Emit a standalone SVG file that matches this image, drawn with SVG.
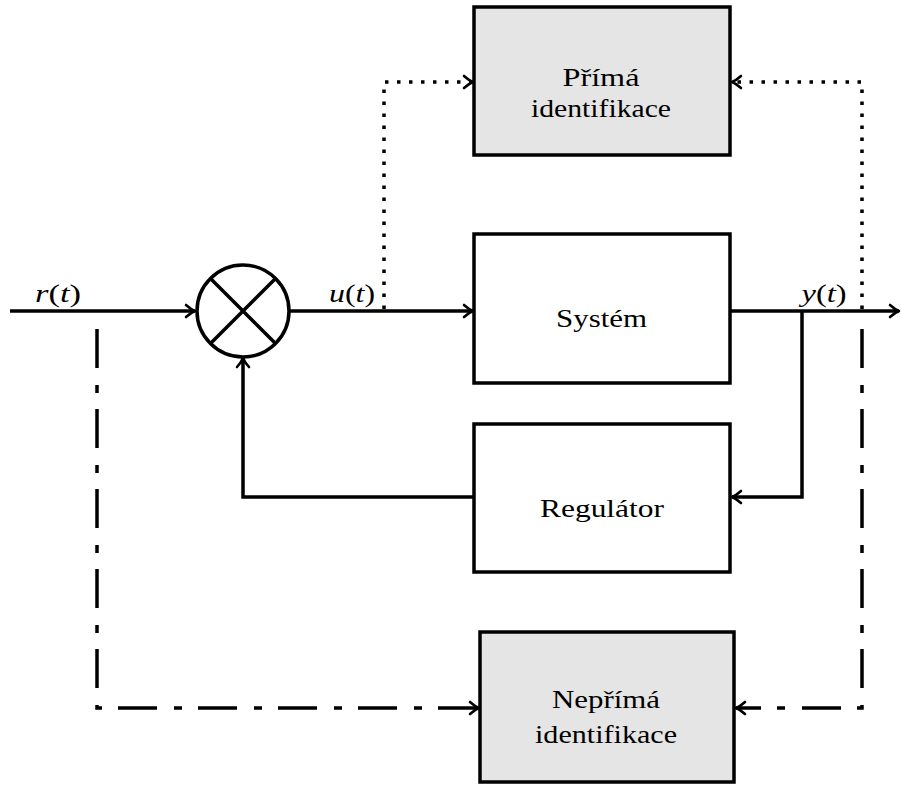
<svg xmlns="http://www.w3.org/2000/svg" width="901" height="785" viewBox="0 0 901 785">
  <style>
    .box { stroke: #000; stroke-width: 3.5; }
    .plain { fill: #fff; }
    .shaded { fill: #e5e5e5; }
    .label { font-family: "Liberation Serif", "Times New Roman", serif; font-size: 25px; fill: #000; text-anchor: middle; }
    .math { font-style: italic; }
    .wire { fill: none; stroke: #000; stroke-width: 3.5; }
    .dotted { stroke-dasharray: 3.5 8.5; }
    .dashdot { stroke-dasharray: 39 17 8 16; }
  </style>
  <defs>
    <marker id="arrow" markerUnits="userSpaceOnUse" viewBox="-12 -8 14 16" refX="0" refY="0" markerWidth="14" markerHeight="16" orient="auto">
      <path d="M -9,-6 Q -4,-1.5 0,0 Q -4,1.5 -9,6" fill="none" stroke="#000" stroke-width="2.6" stroke-linecap="round" stroke-linejoin="round"/>
    </marker>
  </defs>

  <rect width="901" height="785" fill="#fff"/>

  <!-- connectors -->
  <g id="connectors">
    <!-- reference input into summing junction -->
    <path class="wire" d="M 10,311 H 195" marker-end="url(#arrow)"/>
    <!-- junction output to the plant -->
    <path class="wire" d="M 289,311 H 473" marker-end="url(#arrow)"/>
    <!-- plant output -->
    <path class="wire" d="M 730,311 H 899" marker-end="url(#arrow)"/>
    <!-- feedback through the controller -->
    <path class="wire" d="M 802,311 V 497 H 732" marker-end="url(#arrow)"/>
    <path class="wire" d="M 474,497 H 243 V 358" marker-end="url(#arrow)"/>
    <!-- direct identification taps (dotted) -->
    <path class="wire dotted" d="M 384,309 V 82 H 473" marker-end="url(#arrow)"/>
    <path class="wire dotted" d="M 862,309 V 82 H 732" marker-end="url(#arrow)"/>
    <!-- indirect identification taps (dash-dot) -->
    <path class="wire dashdot" d="M 97,325 V 708 H 479" stroke-dashoffset="-4" marker-end="url(#arrow)"/>
    <path class="wire dashdot" d="M 862,325 V 708 H 736" stroke-dashoffset="-4" marker-end="url(#arrow)"/>
  </g>

  <!-- summing junction -->
  <g id="junction">
    <circle cx="243" cy="311" r="46" fill="#fff" stroke="#000" stroke-width="3.5"/>
    <path d="M 210.5,278.5 L 275.5,343.5 M 275.5,278.5 L 210.5,343.5" stroke="#000" stroke-width="3.5"/>
  </g>

  <g id="prima">
    <rect class="box shaded" x="474" y="7" width="256" height="148"/>
    <text class="label" x="601" y="86" textLength="77" lengthAdjust="spacingAndGlyphs">Přímá</text>
    <text class="label" x="601" y="117" textLength="140" lengthAdjust="spacingAndGlyphs">identifikace</text>
  </g>

  <g id="system">
    <rect class="box plain" x="474" y="234" width="256" height="149"/>
    <text class="label" x="601.5" y="327" textLength="91" lengthAdjust="spacingAndGlyphs">Systém</text>
  </g>

  <g id="regulator">
    <rect class="box plain" x="474" y="424" width="256" height="148"/>
    <text class="label" x="602" y="517" textLength="124" lengthAdjust="spacingAndGlyphs">Regulátor</text>
  </g>

  <g id="neprima">
    <rect class="box shaded" x="480" y="632" width="254" height="150"/>
    <text class="label" x="606" y="708" textLength="108" lengthAdjust="spacingAndGlyphs">Nepřímá</text>
    <text class="label" x="606" y="743" textLength="142" lengthAdjust="spacingAndGlyphs">identifikace</text>
  </g>

  <!-- signal labels -->
  <g id="signals">
    <text class="label" x="58" y="302" textLength="46" lengthAdjust="spacingAndGlyphs"><tspan class="math">r</tspan>(<tspan class="math">t</tspan>)</text>
    <text class="label" x="352" y="302" textLength="46" lengthAdjust="spacingAndGlyphs"><tspan class="math">u</tspan>(<tspan class="math">t</tspan>)</text>
    <text class="label" x="824" y="302" textLength="45" lengthAdjust="spacingAndGlyphs"><tspan class="math">y</tspan>(<tspan class="math">t</tspan>)</text>
  </g>
</svg>
